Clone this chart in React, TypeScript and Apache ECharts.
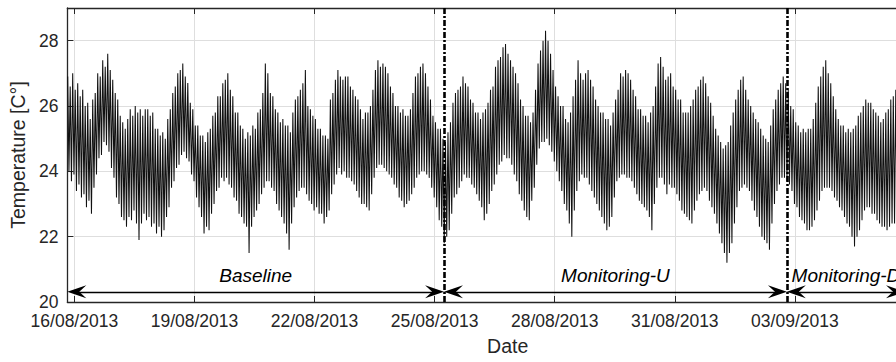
import React, { useEffect, useRef } from 'react';
import * as echarts from 'echarts';

// ---------- data ----------
const DAY0 = Date.UTC(2013, 7, 16); // 16/08/2013 00:00 = day 0
const DAY_MS = 86400000;
const toDay = (s: string) => (Date.parse(s + ':00Z') - DAY0) / DAY_MS;

const seriesStart = '2013-08-15T20:00';
const stepHours = 1.5; // one peak + one trough every 1.5 h

// local maxima, 16 per row, each row one day starting 20:00
const peakRows: number[][] = [
  [26.9, 26.6, 27.0, 26.5, 26.7, 26.3, 26.5, 26.0, 26.1, 25.6, 26.2, 26.4, 27.0, 26.9, 27.4, 27.2],
  [27.6, 27.1, 26.8, 26.4, 26.2, 25.7, 25.5, 25.3, 25.6, 25.9, 25.7, 26.0, 25.8, 25.9, 25.7, 25.9],
  [25.9, 25.7, 25.8, 25.3, 25.3, 25.1, 25.2, 25.0, 25.6, 25.9, 26.4, 26.6, 27.0, 27.1, 27.3, 26.9],
  [26.7, 26.1, 25.9, 25.4, 25.4, 25.1, 25.1, 24.9, 25.2, 25.3, 25.7, 25.8, 26.3, 26.3, 26.7, 26.8],
  [27.0, 26.5, 26.3, 25.8, 25.8, 25.4, 25.3, 25.0, 25.2, 25.1, 25.4, 25.3, 25.8, 25.9, 26.4, 27.3],
  [27.0, 26.4, 26.3, 25.9, 25.8, 25.5, 25.6, 25.4, 25.4, 25.2, 25.8, 26.2, 26.3, 26.5, 26.7, 27.1],
  [26.0, 25.9, 25.7, 25.6, 25.3, 25.3, 25.1, 25.1, 25.0, 26.2, 26.4, 26.8, 27.1, 26.9, 26.8, 26.9],
  [26.9, 26.6, 26.5, 26.3, 26.2, 25.9, 25.6, 25.8, 25.8, 26.0, 26.5, 27.1, 27.4, 27.2, 27.3, 27.2],
  [27.0, 26.6, 26.4, 26.0, 26.0, 25.8, 25.9, 25.7, 25.7, 25.9, 26.4, 26.9, 27.0, 27.2, 27.3, 27.0],
  [26.6, 26.2, 25.7, 25.5, 25.3, 25.3, 25.0, 24.9, 25.2, 25.5, 26.1, 26.4, 26.5, 26.6, 26.9, 26.7],
  [26.6, 26.2, 26.1, 25.8, 25.8, 25.6, 25.8, 25.9, 26.1, 26.5, 26.6, 27.2, 27.4, 27.5, 27.8, 27.9],
  [27.6, 27.4, 27.2, 27.0, 26.7, 26.2, 26.0, 25.7, 25.7, 25.5, 25.8, 26.5, 27.3, 27.7, 28.0, 28.3],
  [28.0, 27.6, 27.1, 26.6, 26.3, 26.0, 26.0, 25.6, 25.5, 25.8, 26.3, 26.8, 27.4, 27.0, 26.8, 27.0],
  [27.1, 26.8, 26.6, 26.2, 26.0, 25.8, 25.8, 25.6, 25.6, 25.4, 25.8, 26.2, 26.5, 27.0, 26.9, 27.1],
  [27.0, 26.8, 26.5, 26.3, 25.9, 25.9, 25.7, 25.7, 25.5, 25.8, 26.0, 26.6, 27.3, 27.5, 27.2, 26.8],
  [26.9, 27.0, 26.6, 26.5, 26.2, 26.2, 25.8, 25.8, 25.8, 26.0, 26.2, 26.5, 26.6, 26.8, 26.9, 26.7],
  [26.3, 26.1, 25.7, 25.3, 25.1, 24.9, 24.7, 24.8, 24.9, 25.4, 25.8, 26.2, 26.5, 26.8, 26.9, 26.5],
  [26.2, 26.0, 25.8, 25.6, 25.5, 25.3, 25.1, 25.0, 24.9, 25.4, 25.9, 26.2, 26.5, 26.7, 26.9, 26.7],
  [26.5, 26.0, 25.9, 25.5, 25.4, 25.2, 25.3, 25.2, 25.3, 25.3, 25.6, 26.1, 26.6, 26.9, 27.2, 27.4],
  [27.0, 26.7, 26.3, 25.9, 25.6, 25.4, 25.4, 25.2, 25.3, 25.2, 25.3, 25.4, 25.7, 25.8, 26.0, 26.2],
  [26.1, 26.1, 25.9, 25.8, 25.7, 25.5, 25.6, 25.8, 25.9, 26.2, 26.3, 26.5, 26.5, 26.4, 26.2, 26.1],
];

// local minima, 45 min after each maximum
const troughRows: number[][] = [
  [24.0, 23.7, 23.9, 23.4, 23.6, 23.2, 23.3, 22.9, 23.1, 22.7, 23.5, 23.9, 24.4, 24.5, 24.9, 24.8],
  [24.6, 24.1, 23.8, 23.2, 23.0, 22.6, 22.5, 22.3, 22.6, 22.5, 22.8, 22.4, 21.9, 22.4, 22.7, 22.5],
  [22.6, 22.3, 22.4, 22.1, 22.3, 22.0, 22.2, 22.6, 22.9, 23.5, 23.7, 24.1, 24.2, 24.5, 24.6, 24.4],
  [24.3, 23.9, 23.7, 23.2, 22.9, 22.6, 22.1, 22.3, 22.2, 22.7, 23.0, 23.4, 23.5, 23.8, 23.7, 23.8],
  [23.6, 23.5, 23.2, 23.1, 22.7, 22.6, 22.4, 22.3, 21.5, 22.3, 22.6, 22.8, 23.0, 23.3, 23.5, 23.7],
  [23.7, 23.5, 23.4, 23.0, 22.8, 22.6, 22.4, 22.1, 21.6, 22.4, 22.9, 23.2, 23.4, 23.5, 23.5, 23.3],
  [23.1, 23.0, 22.8, 22.9, 22.7, 22.7, 22.4, 22.6, 22.8, 23.3, 23.6, 23.9, 24.1, 23.9, 24.0, 23.8],
  [23.8, 23.7, 23.6, 23.4, 23.2, 23.0, 23.0, 22.9, 22.8, 23.3, 23.8, 24.1, 24.2, 24.2, 24.1, 24.0],
  [23.9, 23.8, 23.6, 23.5, 23.2, 23.1, 22.9, 23.0, 23.1, 23.3, 23.5, 23.8, 23.9, 24.0, 24.0, 23.9],
  [23.8, 23.5, 23.2, 22.9, 22.5, 22.3, 21.8, 22.0, 22.2, 22.7, 23.2, 23.3, 23.5, 23.7, 23.9, 23.8],
  [23.8, 23.6, 23.5, 23.3, 23.1, 22.9, 22.5, 22.7, 23.0, 23.4, 23.6, 23.9, 24.2, 24.3, 24.5, 24.4],
  [24.4, 24.2, 23.9, 23.7, 23.3, 23.1, 22.8, 22.6, 22.5, 23.1, 23.5, 24.2, 24.7, 24.9, 24.9, 25.0],
  [24.8, 24.6, 24.3, 24.0, 23.7, 23.4, 23.0, 22.8, 22.4, 22.0, 22.8, 23.4, 23.7, 23.9, 23.8, 23.8],
  [23.6, 23.4, 23.2, 23.0, 22.8, 22.6, 22.4, 22.2, 22.3, 22.6, 23.2, 23.7, 23.8, 23.9, 23.9, 23.8],
  [23.8, 23.7, 23.5, 23.3, 23.1, 23.0, 22.9, 22.8, 22.6, 22.2, 23.0, 23.5, 23.8, 23.8, 23.6, 23.3],
  [23.6, 23.5, 23.5, 23.3, 23.1, 22.8, 22.7, 22.6, 22.5, 22.4, 22.8, 23.1, 23.3, 23.4, 23.5, 23.4],
  [23.1, 22.9, 22.7, 22.4, 22.1, 21.8, 21.5, 21.2, 21.5, 21.8, 22.4, 22.9, 23.4, 23.5, 23.6, 23.5],
  [23.4, 23.1, 22.8, 22.6, 22.3, 22.0, 21.9, 21.8, 21.6, 22.4, 23.0, 23.4, 23.6, 23.8, 23.8, 23.7],
  [23.6, 23.4, 23.0, 22.9, 22.6, 22.5, 22.4, 22.2, 22.2, 22.3, 22.5, 22.8, 23.1, 23.4, 23.5, 23.5],
  [23.5, 23.4, 23.2, 23.1, 22.9, 22.8, 22.6, 22.4, 22.3, 22.0, 21.7, 22.0, 22.2, 22.5, 22.8, 22.9],
  [22.9, 22.7, 22.7, 22.5, 22.4, 22.3, 22.3, 22.2, 22.3, 22.4, 22.4, 22.5, 22.6, 22.7, 22.8, 22.9],
];

const xTickDates = ['2013-08-16', '2013-08-19', '2013-08-22', '2013-08-25', '2013-08-28', '2013-08-31', '2013-09-03'];
const yTicks = [20, 22, 24, 26, 28];
const phaseNames = ['Baseline', 'Monitoring-U', 'Monitoring-D'];
const phaseBounds = ['2013-08-15T19:48', '2013-08-25T05:38', '2013-09-02T19:12', '2013-09-05T18:00'];

// ---------- layout / style ----------
const FONT = '"Liberation Sans", Arial, Helvetica, sans-serif';
const AXIS = '#262626';
const GRID = '#dedede';
const PX_PER_DAY = 886 / 22;
const ARROW_LEN = 19;
const ARROW_Y = 20.31;
const ARROW = 'path://M5 0 L10 19 L5 12 L0 19 Z';

const pad = (n: number) => (n < 10 ? '0' + n : '' + n);
const fmtDate = (v: number) => {
  const d = new Date(DAY0 + Math.round(v * DAY_MS));
  return pad(d.getUTCDate()) + '/' + pad(d.getUTCMonth() + 1) + '/' + d.getUTCFullYear();
};

export default function App() {
  const ref = useRef<HTMLDivElement>(null);

  useEffect(() => {
    if (!ref.current) return;
    const chart = echarts.init(ref.current, null, { renderer: 'svg' });

    const startDay = toDay(seriesStart);
    const points: [number, number][] = [];
    peakRows.forEach((row, r) =>
      row.forEach((p, k) => {
        const t = startDay + ((r * 16 + k) * stepHours) / 24;
        points.push([t, p]);
        points.push([t + stepHours / 48, troughRows[r][k]]);
      })
    );

    const xTicks = xTickDates.map((s) => toDay(s + 'T00:00'));
    const bounds = phaseBounds.map(toDay);
    const xMin = bounds[0];
    const xMax = xMin + 22;
    const half = ARROW_LEN / 2 / PX_PER_DAY;

    const axisLine = { show: true, onZero: false, lineStyle: { color: AXIS, width: 1.3 } };

    chart.setOption({
      animation: false,
      grid: { left: 62, top: 8, width: 886, height: 294, containLabel: false },
      xAxis: [
        {
          type: 'value',
          min: xMin,
          max: xMax,
          position: 'bottom',
          axisLine,
          axisTick: { show: true, inside: true, length: 6, customValues: xTicks, lineStyle: { color: AXIS, width: 1 } },
          axisLabel: {
            customValues: xTicks,
            formatter: fmtDate,
            fontSize: 17.5,
            lineHeight: 16,
            color: AXIS,
            fontFamily: FONT,
            margin: 11,
          },
          splitLine: { show: true, lineStyle: { color: GRID, width: 1 } },
          name: 'Date',
          nameLocation: 'middle',
          nameGap: 34,
          nameTextStyle: { fontSize: 19.5, color: AXIS, fontFamily: FONT },
        },
        {
          type: 'value',
          min: xMin,
          max: xMax,
          position: 'top',
          axisLine,
          axisTick: { show: true, inside: true, length: 6, customValues: xTicks, lineStyle: { color: AXIS, width: 1 } },
          axisLabel: { show: false },
          splitLine: { show: false },
        },
      ],
      yAxis: [
        {
          type: 'value',
          min: 20,
          max: 29,
          interval: 2,
          position: 'left',
          axisLine,
          axisTick: { show: true, inside: true, length: 6, customValues: yTicks, lineStyle: { color: AXIS, width: 1 } },
          axisLabel: {
            customValues: yTicks,
            fontSize: 17.5,
            lineHeight: 14,
            padding: [0, 0, 2, 0],
            color: AXIS,
            fontFamily: FONT,
            margin: 9,
          },
          splitLine: { show: true, lineStyle: { color: GRID, width: 1 } },
          name: 'Temperature [C°]',
          nameLocation: 'middle',
          nameGap: 34,
          nameTextStyle: { fontSize: 19.5, color: AXIS, fontFamily: FONT },
        },
      ],
      series: [
        {
          type: 'line',
          data: points,
          showSymbol: false,
          symbol: 'none',
          silent: true,
          lineStyle: { color: '#111', width: 1.05 },
          z: 2,
        },
        {
          type: 'line',
          data: [],
          silent: true,
          markLine: {
            silent: true,
            symbol: 'none',
            label: { show: false },
            lineStyle: { color: '#000', width: 2.6, type: [6, 2, 2, 2] },
            data: bounds.slice(1, 3).map((d) => ({ xAxis: d })),
          },
          z: 5,
        },
        {
          type: 'line',
          data: [],
          silent: true,
          markLine: {
            silent: true,
            symbol: [ARROW, ARROW],
            symbolSize: [13, ARROW_LEN],
            lineStyle: { color: '#000', width: 1.3, type: 'solid' },
            label: {
              show: true,
              position: 'insideMiddleTop',
              formatter: '{b}',
              fontStyle: 'italic',
              fontSize: 19,
              color: '#000',
              fontFamily: FONT,
              distance: 7,
            },
            data: phaseNames.map((name, i) => [
              { name, coord: [bounds[i] + half, ARROW_Y] },
              { coord: [bounds[i + 1] - half, ARROW_Y] },
            ]),
          },
          z: 6,
        },
      ],
    });

    return () => chart.dispose();
  }, []);

  return (
    <div style={{ position: 'absolute', left: 0, top: 0, width: 896, height: 362, overflow: 'hidden', background: '#fff' }}>
      <div ref={ref} style={{ width: 960, height: 362 }} />
    </div>
  );
}
